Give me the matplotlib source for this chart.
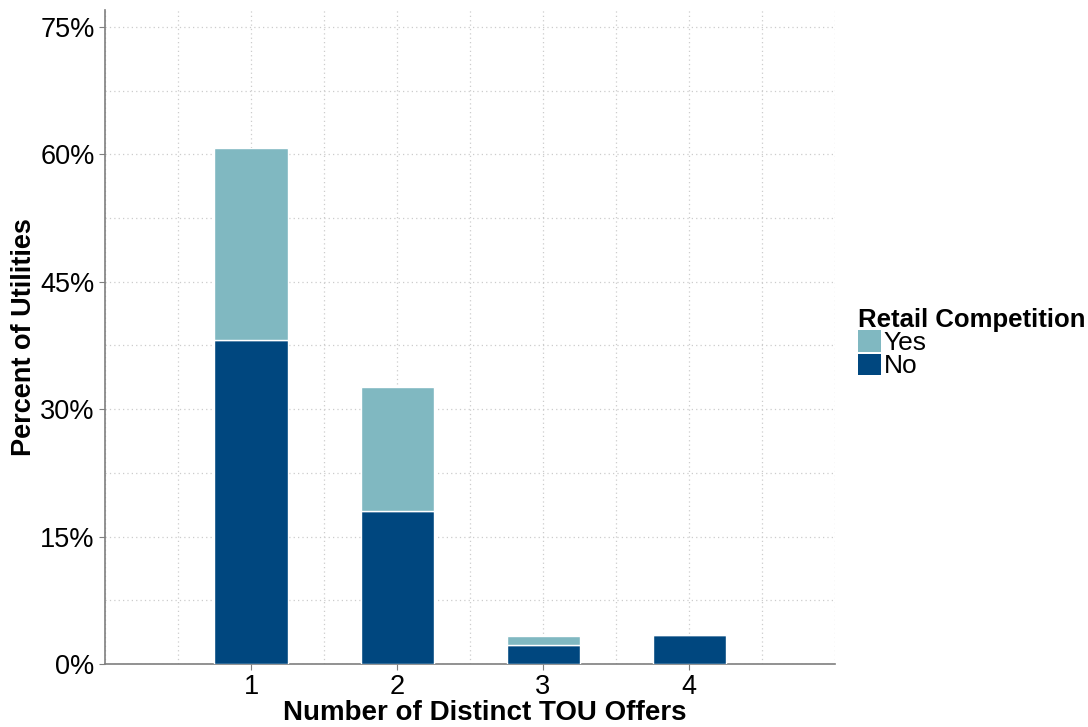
import numpy as np
import matplotlib.pyplot as plt
from matplotlib.patches import Patch
from matplotlib.ticker import MultipleLocator, FuncFormatter

plt.rcParams['font.family'] = ['Liberation Sans', 'DejaVu Sans']

# Data: percent of utilities by number of distinct TOU offers
offers = [1, 2, 3, 4]
pct_no = [38.2, 18.0, 2.2, 3.4]
pct_yes = [22.5, 14.6, 1.1, 0.0]

col_yes = '#80b8c1'
col_no = '#00477f'

fig = plt.figure(figsize=(10.88, 7.27), dpi=100)
ax = fig.add_axes([0.0965, 0.0867, 0.671, 0.8995])

ax.bar(offers, pct_no, width=0.5, color=col_no, edgecolor='white', linewidth=1, zorder=3)
ax.bar(offers, pct_yes, width=0.5, bottom=pct_no, color=col_yes, edgecolor='white', linewidth=1, zorder=3)

ax.set_xlim(0, 5)
ax.set_ylim(0, 77)
ax.set_xticks(offers)
ax.xaxis.set_minor_locator(MultipleLocator(0.5))
ax.yaxis.set_major_locator(MultipleLocator(15))
ax.yaxis.set_minor_locator(MultipleLocator(7.5))
ax.yaxis.set_major_formatter(FuncFormatter(lambda v, p: f'{v:.0f}%'))

ax.grid(True, which='both', color='#cccccc', linestyle=(0, (1, 2.5)), linewidth=0.9, zorder=0)
ax.set_axisbelow(True)

for s in ['top', 'right']:
    ax.spines[s].set_visible(False)
for s in ['left', 'bottom']:
    ax.spines[s].set_color('#7f7f7f')
    ax.spines[s].set_linewidth(1.2)

ax.tick_params(axis='both', which='major', colors='#7f7f7f', length=4, labelsize=19.5, labelcolor='black')
ax.tick_params(axis='both', which='minor', length=0)

ax.set_xlabel('Number of Distinct TOU Offers', fontsize=20, fontweight='bold', labelpad=1)
ax.xaxis.set_label_coords(0.52, -0.055)
ax.set_ylabel('Percent of Utilities', fontsize=19.5, fontweight='bold', labelpad=2)

handles = [Patch(facecolor=col_yes, edgecolor='none'), Patch(facecolor=col_no, edgecolor='none')]
leg = fig.legend(handles, ['Yes', 'No'], title='Retail Competition', loc='center left',
                 bbox_to_anchor=(0.789, 0.528), frameon=False, fontsize=19,
                 title_fontsize=18.5, handlelength=0.85, handleheight=0.85,
                 handletextpad=0.1, labelspacing=-0.05, borderpad=0, borderaxespad=0)
leg.get_title().set_fontweight('bold')
leg._legend_box.align = 'left'

fig.savefig('out.png', dpi=100)
